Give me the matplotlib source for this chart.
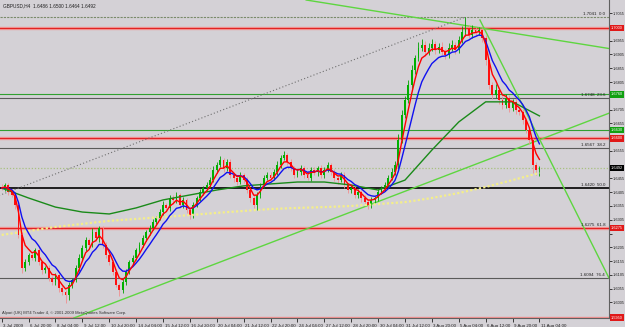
import matplotlib.pyplot as plt
import matplotlib.transforms as mtransforms

# GBPUSD H4, 3 Jul - 11 Aug 2009
closes = [
    1.6420, 1.6431, 1.6406, 1.6395, 1.6359, 1.6250, 1.6130, 1.6152,
    1.6177, 1.6166, 1.6195, 1.6152, 1.6123, 1.6130, 1.6094, 1.6079,
    1.6104, 1.6057, 1.6043, 1.6032, 1.6068, 1.6086, 1.6130, 1.6166,
    1.6203, 1.6232, 1.6213, 1.6261, 1.6239, 1.6275, 1.6213, 1.6177,
    1.6152, 1.6115, 1.6068, 1.6050, 1.6079, 1.6115, 1.6152, 1.6166,
    1.6195, 1.6213, 1.6239, 1.6261, 1.6275, 1.6297, 1.6311, 1.6333,
    1.6359, 1.6348, 1.6384, 1.6377, 1.6395, 1.6359, 1.6377, 1.6340,
    1.6322, 1.6359, 1.6384, 1.6406, 1.6420, 1.6431, 1.6449, 1.6486,
    1.6504, 1.6522, 1.6493, 1.6515, 1.6467, 1.6457, 1.6442, 1.6467,
    1.6449, 1.6413, 1.6384, 1.6359, 1.6395, 1.6431, 1.6457, 1.6467,
    1.6457, 1.6478, 1.6504, 1.6529, 1.6540, 1.6515, 1.6493, 1.6467,
    1.6478, 1.6493, 1.6467, 1.6457, 1.6486, 1.6478, 1.6493, 1.6467,
    1.6486, 1.6504, 1.6478, 1.6457, 1.6449, 1.6467, 1.6431, 1.6413,
    1.6420, 1.6395, 1.6406, 1.6384, 1.6369, 1.6359, 1.6377, 1.6384,
    1.6406, 1.6420, 1.6431, 1.6457, 1.6478, 1.6504, 1.6595, 1.6685,
    1.6740, 1.6794, 1.6849, 1.6892, 1.6929, 1.6939, 1.6914, 1.6929,
    1.6943, 1.6921, 1.6932, 1.6914, 1.6903, 1.6929, 1.6939, 1.6921,
    1.6957, 1.6987, 1.7001, 1.6976, 1.6994, 1.6987, 1.6994, 1.6965,
    1.6885, 1.6794, 1.6758, 1.6776, 1.6740, 1.6722, 1.6747, 1.6711,
    1.6732, 1.6703, 1.6696, 1.6667, 1.6631, 1.6595, 1.6504, 1.6486,
    1.6492,
]
first_open = 1.6425

# wick lengths in pips above / below the body
up_pips = [
    10, 8, 6, 10, 5, 6, 12, 10,
    8, 12, 6, 10, 8, 6, 10, 8,
    8, 6, 10, 6, 12, 8, 10, 14,
    10, 12, 8, 14, 10, 8, 6, 10,
    8, 6, 10, 8, 12, 10, 8, 10,
    8, 10, 12, 8, 10, 12, 8, 10,
    14, 8, 12, 10, 12, 8, 10, 6,
    10, 12, 8, 10, 8, 12, 10, 14,
    12, 16, 8, 10, 12, 8, 10, 12,
    8, 10, 6, 12, 10, 8, 12, 10,
    10, 12, 14, 10, 16, 8, 10, 8,
    12, 10, 8, 14, 10, 12, 8, 10,
    10, 12, 8, 10, 8, 12, 10, 8,
    10, 8, 12, 8, 10, 12, 10, 8,
    10, 8, 12, 10, 14, 16, 20, 18,
    16, 20, 18, 12, 20, 22, 14, 16,
    18, 12, 14, 20, 10, 16, 18, 12,
    14, 20, 40, 12, 18, 10, 12, 8,
    10, 8, 12, 20, 10, 14, 16, 10,
    12, 14, 10, 12, 8, 10, 8, 10,
    8,
]
down_pips = [
    8, 10, 12, 8, 14, 10, 18, 12,
    10, 8, 12, 10, 14, 12, 10, 12,
    10, 14, 12, 28, 18, 10, 8, 10,
    8, 10, 12, 8, 10, 14, 10, 12,
    10, 12, 8, 20, 12, 10, 8, 10,
    8, 10, 8, 12, 10, 8, 10, 8,
    10, 8, 12, 14, 10, 12, 10, 12,
    14, 10, 8, 10, 12, 8, 10, 8,
    10, 8, 14, 10, 12, 14, 10, 8,
    12, 10, 14, 10, 18, 12, 10, 8,
    10, 8, 12, 10, 8, 12, 10, 12,
    8, 12, 10, 8, 12, 10, 14, 10,
    10, 8, 12, 10, 14, 8, 10, 12,
    10, 12, 10, 14, 8, 16, 10, 12,
    10, 8, 12, 10, 8, 10, 14, 12,
    12, 10, 14, 16, 12, 10, 14, 12,
    12, 16, 10, 12, 14, 10, 12, 14,
    10, 12, 14, 12, 10, 16, 12, 14,
    18, 16, 14, 12, 16, 14, 12, 16,
    12, 14, 10, 16, 12, 14, 30, 20,
    22,
]

# slow moving averages, read every 8 bars
ma_idx = list(range(0, 161, 8))
green_ma = [1.6420, 1.6384, 1.6351, 1.6333, 1.6326, 1.6348, 1.6377, 1.6395,
            1.6413, 1.6428, 1.6435, 1.6442, 1.6442, 1.6431, 1.6413, 1.6449,
            1.6558, 1.6660, 1.6733, 1.6733, 1.6682]
yellow_ma = [1.6250, 1.6264, 1.6279, 1.6290, 1.6301, 1.6308, 1.6315, 1.6322,
             1.6330, 1.6337, 1.6344, 1.6348, 1.6351, 1.6355, 1.6362, 1.6369,
             1.6384, 1.6402, 1.6424, 1.6449, 1.6475]

time_labels = ["3 Jul 2009", "6 Jul 20:00", "8 Jul 04:00", "9 Jul 12:00",
               "10 Jul 20:00", "14 Jul 04:00", "15 Jul 12:00", "16 Jul 20:00",
               "20 Jul 04:00", "21 Jul 12:00", "22 Jul 20:00", "24 Jul 04:00",
               "27 Jul 12:00", "28 Jul 20:00", "30 Jul 04:00", "31 Jul 12:00",
               "3 Aug 20:00", "5 Aug 04:00", "6 Aug 12:00", "9 Aug 20:00",
               "11 Aug 04:00"]

fib_levels = [1.7041, 1.6748, 1.6567, 1.6420, 1.6275, 1.6094]
fib_pct = ["0.0", "23.6", "38.2", "50.0", "61.8", "76.4"]
red_levels = [1.7000, 1.6600, 1.6275, 1.5950]
green_levels = [1.6760, 1.6630]
bid = 1.6492

# trend lines: (bar, price) pairs
channel_lo = [(21.5, 1.59484), (180.7, 1.66918)]
channel_hi = [(-128, 1.5799), (138, 1.7041)]
down_steep = [(142.3, 1.70301), (180.7, 1.60936)]
down_flat = [(90.6, 1.71027), (180.7, 1.69266)]

BG = '#d4d1d6'
plt.rcParams['font.family'] = ['Liberation Sans', 'DejaVu Sans']

fig = plt.figure(figsize=(6.25, 3.27), dpi=100, facecolor=BG)
ax = fig.add_axes([0, 9 / 327, 609 / 625, 318 / 327], facecolor=BG)

n = len(closes)
opens = [first_open] + closes[:-1]
highs = [max(o, c) + u / 10000 for o, c, u in zip(opens, closes, up_pips)]
lows = [min(o, c) - d / 10000 for o, c, d in zip(opens, closes, down_pips)]


def ema(vals, period):
    a = 2 / (period + 1)
    out = [vals[0]]
    for v in vals[1:]:
        out.append(out[-1] + a * (v - out[-1]))
    return out


# horizontal levels
for p in fib_levels:
    if p == 1.6420:
        ax.axhline(p, color='#101010', lw=1.3, zorder=1)
    elif p == 1.7041:
        ax.axhline(p, color='#7a8a6a', lw=0.8, ls=(0, (2, 1)), zorder=1)
    else:
        ax.axhline(p, color='#5a5a5a', lw=0.8, zorder=1)
for p in red_levels:
    ax.axhline(p, color='#f09090', lw=2.4, zorder=1)
    ax.axhline(p, color='#e02020', lw=0.7, zorder=1)
for p in green_levels:
    ax.axhline(p, color='#30a030', lw=0.8, zorder=1)
ax.axhline(bid, color='#a8c080', lw=0.9, ls=(0, (1, 1.5)), zorder=1)

# trend lines
for (x0, y0), (x1, y1) in [channel_lo, down_steep, down_flat]:
    ax.plot([x0, x1], [y0, y1], color='#5ed640', lw=1.0, zorder=2)
ax.plot([channel_hi[0][0], channel_hi[1][0]], [channel_hi[0][1], channel_hi[1][1]],
        color='#707070', lw=0.8, ls=(0, (1, 2)), zorder=2)

# candles
xs = list(range(n))
for i in xs:
    o, c = opens[i], closes[i]
    bull = c >= o
    wick = '#00a000' if bull else '#f09090'
    body = '#00b000' if bull else '#ff1010'
    ax.vlines(i, lows[i], highs[i], color=wick, lw=0.6, zorder=3)
    h = max(abs(c - o), 0.00025)
    ax.bar(i, h, bottom=min(o, c), width=0.55, color=body, lw=0, zorder=4)

# moving averages
ax.plot(ma_idx, yellow_ma, color='#f4ee8a', lw=1.6, ls=(0, (1, 1)), zorder=5)
ax.plot(ma_idx, green_ma, color='#1a8a1a', lw=1.0, zorder=5)
ax.plot(xs, ema(closes, 8), color='#1010f0', lw=1.0, zorder=6)
ax.plot(xs, ema(closes, 4), color='#ff0000', lw=1.0, zorder=6)

ax.set_xlim(-0.5, 180.7)
ax.set_ylim(1.59484, 1.71027)

# axes look
for s in ['left', 'top']:
    ax.spines[s].set_visible(False)
for s in ['right', 'bottom']:
    ax.spines[s].set_color('#606060')
    ax.spines[s].set_linewidth(0.8)

# price boxes on the right axis
boxes = [(p, '#e01818') for p in red_levels] + [(p, '#10a010') for p in green_levels] + [(bid, '#000000')]

ax.yaxis.tick_right()
yt = [1.5955 + 0.005 * k for k in range(23)]
ax.set_yticks(yt)
# labels hidden under a price box are left empty
ax.set_yticklabels(["" if any(abs(v - p) < 0.0022 for p, _ in boxes) else f"{v:.4f}" for v in yt])
ax.tick_params(axis='y', length=2, width=0.6, pad=0.8, labelsize=2.8, colors='#202020')
ax.set_xticks(ma_idx)
ax.set_xticklabels(time_labels, ha='left')
ax.tick_params(axis='x', length=3, width=0.6, pad=1, labelsize=3.2, colors='#202020')
offset = mtransforms.ScaledTranslation(1.5 / 100, 0, fig.dpi_scale_trans)
for lab in ax.get_xticklabels():
    lab.set_transform(lab.get_transform() + offset)

tr = mtransforms.blended_transform_factory(ax.transAxes, ax.transData)
for p, col in boxes:
    ax.text(1.003, p, f"{p:.4f}", transform=tr, ha='left', va='center', fontsize=2.8,
            color='white', clip_on=False, zorder=10,
            bbox=dict(boxstyle='square,pad=0.3', fc=col, ec='none'))

# fibo labels
x_lab = (605 - 1.7) / 3.36
for p, pct in zip(fib_levels, fib_pct):
    ax.text(x_lab, p + 0.0003, f"{p:.4f}  {pct}", ha='right', va='bottom', fontsize=3.2,
            color='#202020', zorder=7)

fig.text(3 / 625, 1 - 6 / 327, "GBPUSD,H4  1.6486 1.6500 1.6464 1.6492",
         fontsize=3.4, va='center', color='#202020')
ax.text(0.004, 1.5958, "Alpari (UK) MT4 Trader 4, \u00a9 2001-2009 MetaQuotes Software Corp.",
        transform=tr, fontsize=3.0, color='#303030', va='bottom', zorder=7)

fig.savefig('out.png', dpi=100, facecolor=BG)
